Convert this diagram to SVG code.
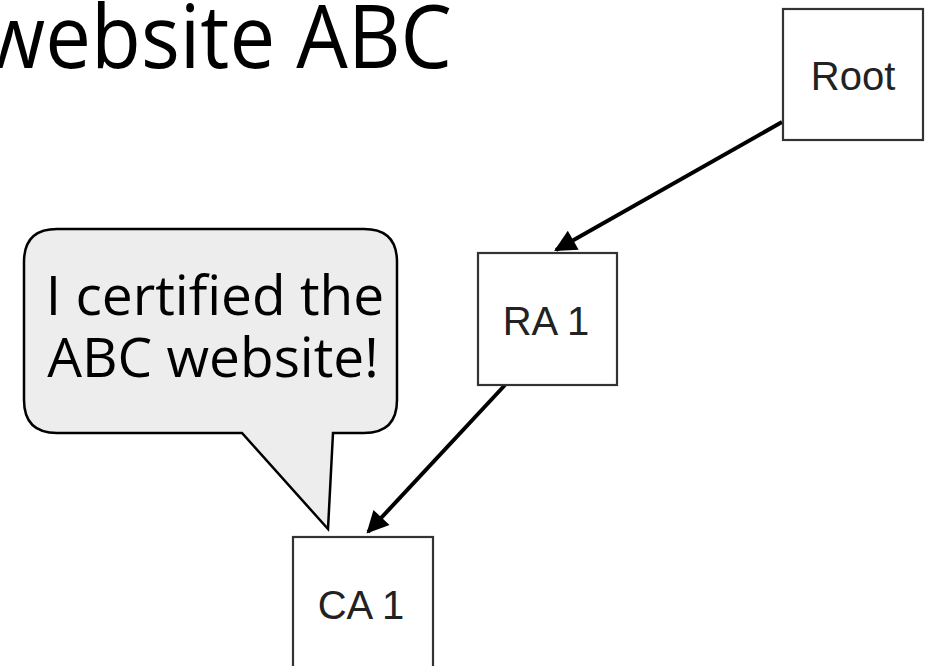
<svg xmlns="http://www.w3.org/2000/svg" width="936" height="666" viewBox="0 0 936 666">
<style>
.box{fill:#fff;stroke:#333;stroke-width:2.2}
.lbl{font-family:"Liberation Sans",Arial,sans-serif;font-size:40px;fill:#222;text-anchor:middle}
.conn{stroke:#000;stroke-width:4;fill:none}
.ttl{font-family:"Open Sans","Noto Sans",sans-serif;fill:#000}
</style>
<defs>
<marker id="ah" viewBox="0 0 10 10" refX="9" refY="5" markerWidth="7.5" markerHeight="5.5" markerUnits="strokeWidth" orient="auto">
<path d="M0,0 L10,5 L0,10 z" fill="#000"/>
</marker>
</defs>
<rect width="936" height="666" fill="#fff"/>
<text class="ttl" x="-18" y="68" font-size="88" textLength="470" lengthAdjust="spacingAndGlyphs">website ABC</text>
<g id="connectors">
<line class="conn" x1="782" y1="122" x2="556" y2="250" marker-end="url(#ah)"/>
<line class="conn" x1="505" y1="385" x2="368" y2="532" marker-end="url(#ah)"/>
</g>
<g id="root">
<rect class="box" x="783" y="9" width="140" height="131"/>
<text class="lbl" x="853" y="90">Root</text>
</g>
<g id="ra1">
<rect class="box" x="478" y="253" width="139" height="132"/>
<text class="lbl" x="546" y="335">RA 1</text>
</g>
<g id="ca1">
<rect class="box" x="293" y="537" width="140" height="140"/>
<text class="lbl" x="361" y="619">CA 1</text>
</g>
<g id="callout">
<path d="M57,229 H364 Q397,229 397,262 V400 Q397,433 364,433 H333 L328,529 L242,433 H57 Q24,433 24,400 V262 Q24,229 57,229 Z" fill="#ededed" stroke="#000" stroke-width="2.5"/>
<text class="ttl" font-size="55" text-anchor="middle" x="215" y="315">I certified the</text>
<text class="ttl" font-size="55" text-anchor="middle" x="213" y="377">ABC website!</text>
</g>
</svg>
